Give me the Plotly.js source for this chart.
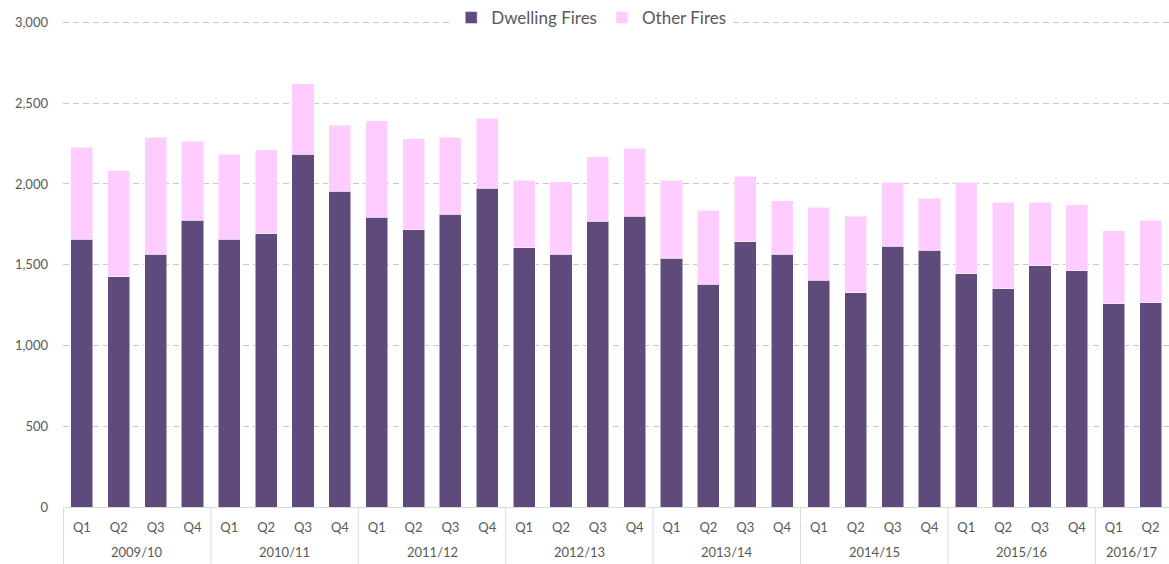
<!DOCTYPE html>
<html>
<head>
<meta charset="utf-8">
<script src="https://cdn.plot.ly/plotly-3.0.1.min.js"></script>
<style>html,body{margin:0;padding:0;background:#fff;}#chart{width:1169px;height:564px;}</style>
</head>
<body>
<div id="chart"></div>
<script>
const yearLabels = ['2009/10','2010/11','2011/12','2012/13','2013/14','2014/15','2015/16','2016/17'];
const quarterLabels = ['Q1','Q2','Q3','Q4'];
const quarterCounts = [4,4,4,4,4,4,4,2];

const dwellingFires = [1657,1427,1565,1776, 1657,1692,2185,1955, 1795,1717,1812,1972, 1606,1565,1768,1801, 1541,1378,1641,1565, 1403,1327,1614,1590, 1444,1352,1495,1462, 1257,1265];
const totalFires    = [2228,2083,2288,2263, 2185,2212,2620,2363, 2390,2280,2288,2407, 2023,2015,2169,2220, 2023,1836,2049,1895, 1855,1801,2009,1912, 2009,1887,1887,1871, 1709,1776];
const otherFires = totalFires.map((t,i)=>t-dwellingFires[i]);

const xKeys = [], xQuarters = [];
yearLabels.forEach((y,i)=>{ for(let q=0;q<quarterCounts[i];q++){ xKeys.push(y+' '+quarterLabels[q]); xQuarters.push(quarterLabels[q]); } });

const B = 57;
const T = 18;
const plotH = 564 - T - B;
const shapes = [], annotations = [];
let start = -0.5;
const divLine = x => ({type:'line', xref:'x', yref:'paper', x0:x, x1:x, y0:0, y1:-B/plotH, line:{color:'#D9D9D9', width:1}});
shapes.push(divLine(start));
quarterCounts.forEach((c,i)=>{
  const end = start + c;
  annotations.push({xref:'x', yref:'paper', x:(start+end)/2, y:0, yshift:-45, yanchor:'middle', xanchor:'center',
                    text:yearLabels[i], showarrow:false, font:{size:13, color:'#595959'}});
  if (end < xKeys.length - 0.5) shapes.push(divLine(end));
  start = end;
});

const FONT = 'Lato, "Open Sans", sans-serif';
const traces = [
  {type:'bar', name:'Dwelling Fires', x:xKeys, y:dwellingFires,
   marker:{color:'#5F4B7B', line:{color:'rgba(255,255,255,0.5)', width:1}}},
  {type:'bar', name:'Other Fires', x:xKeys, y:otherFires,
   marker:{color:'#FFCCFF', line:{color:'rgba(255,255,255,0.5)', width:1}}}
];
const layout = {
  width:1169, height:564,
  margin:{l:63, r:0, t:T, b:B},
  barmode:'stack', bargap:0.4,
  paper_bgcolor:'#fff', plot_bgcolor:'#fff',
  font:{family:FONT, size:13, color:'#595959'},
  showlegend:true,
  legend:{orientation:'h', x:0.351, xanchor:'left', y:1.004, yanchor:'middle',
          bgcolor:'#fff', font:{size:17, color:'#595959', family:FONT},
          itemwidth:30, traceorder:'normal'},
  shapes: shapes,
  annotations: annotations,
  xaxis:{type:'category', tickvals:xKeys, ticktext:xQuarters, showgrid:false, showline:true,
         linecolor:'#D9D9D9', linewidth:1, ticks:'', ticklabelstandoff:8,
         tickfont:{size:13, color:'#595959'}, fixedrange:true},
  yaxis:{range:[0,3015], tickvals:[0,500,1000,1500,2000,2500,3000], tickformat:',', showgrid:true, gridcolor:'#C8C8C8',
         griddash:'6px,4px', gridwidth:1, zeroline:false, showline:false, ticks:'', ticklabelstandoff:14,
         tickfont:{size:13, color:'#595959'}, fixedrange:true}
};
Plotly.newPlot('chart', traces, layout, {displayModeBar:false, staticPlot:true});
</script>
</body>
</html>
